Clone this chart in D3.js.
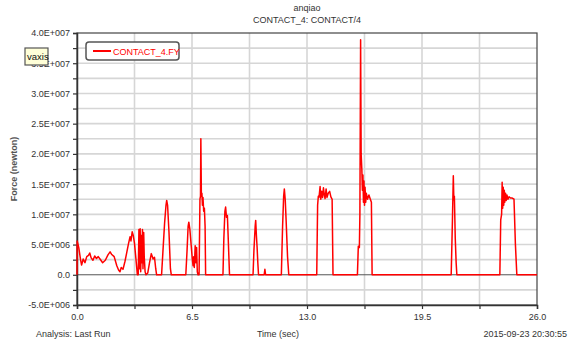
<!DOCTYPE html>
<html>
<head>
<meta charset="utf-8">
<script src="https://cdn.jsdelivr.net/npm/d3@7"></script>
<style>
  body { margin: 0; background: #fff; }
  svg text { font-family: "Liberation Sans", Arial, sans-serif; }
</style>
</head>
<body>
<div id="chart"></div>
<script>
// trace of CONTACT_4.FY, time in seconds, force in 1e6 newton
let timeSec = [
  0, 0.01, 0.1, 0.2, 0.26, 0.35, 0.45, 0.55, 0.65, 0.72, 0.8, 0.9, 1.0, 1.1, 1.2, 1.3, 1.45, 1.6, 1.75, 1.87, 1.95, 2.1, 2.25, 2.35, 2.43, 2.5, 2.6, 2.71, 2.8, 2.9, 3.0, 3.05, 3.12, 3.18, 3.25, 3.35, 3.41,
  3.46, 3.5, 3.53, 3.57, 3.6, 3.64, 3.67, 3.7, 3.73, 3.77, 3.8, 3.85, 3.9,
  4.0, 4.1, 4.2, 4.3, 4.38, 4.45, 4.5,
  4.78, 4.85, 4.95, 5.03, 5.07, 5.12, 5.2, 5.28, 5.33,
  6.15, 6.22, 6.28, 6.32, 6.38, 6.45, 6.52, 6.56, 6.6, 6.63, 6.68, 6.72, 6.76, 6.8, 6.84,
  6.9, 6.95, 6.98, 7.0, 7.03, 7.06, 7.09, 7.12, 7.16, 7.2, 7.24, 7.27,
  8.25, 8.3, 8.36, 8.4, 8.45, 8.5, 8.56, 8.62,
  9.95, 10.0, 10.07, 10.1, 10.14, 10.18, 10.22, 10.26, 10.58, 10.62, 10.66,
  11.55, 11.62, 11.68, 11.72, 11.77, 11.82, 11.9, 11.97,
  13.55, 13.6, 13.64, 13.68, 13.74, 13.78, 13.83, 13.88, 13.93, 13.98, 14.02, 14.08, 14.13, 14.2, 14.28, 14.35, 14.42, 14.47,
  15.85, 15.9, 15.96, 15.99, 16.03, 16.06, 16.1, 16.13, 16.16, 16.19, 16.22, 16.25, 16.28, 16.32, 16.35, 16.42, 16.5, 16.58, 16.64, 16.68,
  21.15, 21.22, 21.27, 21.3, 21.33, 21.38, 21.43, 21.47,
  23.9, 23.95, 24.0, 24.03, 24.06, 24.09, 24.12, 24.15, 24.18, 24.22, 24.26, 24.3, 24.36, 24.42, 24.5, 24.6, 24.7, 24.78, 24.86,
  26.0
];
let forceE6 = [
  0, 5.6, 4.5, 2.5, 1.6, 2.6, 2.0, 3.0, 3.2, 3.6, 2.8, 2.4, 3.1, 2.7, 3.0, 2.6, 2.0, 2.4, 3.3, 3.8, 3.4, 3.0, 1.5, 0.8, 0.5, 1.2, 0.9, 2.2, 3.5, 5.0, 6.3, 5.6, 7.1, 6.5, 5.2, 2.0, 0,
  0, 7.5, 1.0, 7.6, 0.5, 6.5, 2.0, 7.5, 1.0, 7.0, 3.0, 0.5, 0,
  0.3, 2.0, 3.5, 2.6, 2.9, 1.0, 0,
  0, 3.5, 8.5, 11.5, 12.3, 11.5, 7.0, 1.0, 0,
  0, 4.0, 8.0, 8.7, 7.5, 5.0, 2.5, 1.5, 3.0, 1.2, 4.8, 2.0, 4.5, 0.5, 0,
  0, 12.5, 13.0, 22.5, 13.0, 13.5, 11.5, 12.8, 10.5, 11.0, 8.0, 0,
  0, 6.0, 10.5, 11.2, 9.5, 9.8, 5.0, 0,
  0, 4.0, 8.0, 9.0, 6.5, 4.5, 2.0, 0, 0, 0.9, 0,
  0, 8.0, 13.0, 14.2, 12.4, 9.0, 3.0, 0,
  0, 11.5, 13.0, 12.8, 14.6, 12.5, 13.8, 12.8, 14.4, 13.2, 12.6, 14.2, 12.8, 13.5, 13.8, 12.9, 12.5, 0,
  0, 4.7, 4.5, 10.0, 38.9, 20.0, 17.4, 14.0, 16.5, 12.0, 15.5, 11.5, 14.5, 12.0, 13.5, 12.5, 13.2, 12.5, 12.0, 0,
  0, 9.0, 16.4, 12.4, 13.0, 6.0, 2.0, 0,
  0, 9.1, 10.0, 15.3, 11.0, 14.5, 11.5, 14.0, 12.0, 13.5, 12.3, 13.2, 12.5, 12.9, 12.7, 12.7, 12.5, 5.0, 0,
  0
];
let xTickValues = [0, 6.5, 13, 19.5, 26];
let yTickValues = [-5e6, 0, 5e6, 1e7, 1.5e7, 2e7, 2.5e7, 3e7, 3.5e7, 4e7];
let yTickLabels = ['-5.0E+006', '0.0', '5.0E+006', '1.0E+007', '1.5E+007', '2.0E+007', '2.5E+007', '3.0E+007', '3.5E+007', '4.0E+007'];
let seriesName = 'CONTACT_4.FY';

let width = 577;
let height = 341;

let svg = d3.select('#chart')
    .append('svg')
    .attr('width', width)
    .attr('height', height);

let plotMargins = { top: 33, bottom: 36, left: 77, right: 40 };
let plotWidth = width - plotMargins.left - plotMargins.right;
let plotHeight = height - plotMargins.top - plotMargins.bottom;

let plotGroup = svg.append('g')
    .attr('transform', `translate(${plotMargins.left},${plotMargins.top})`);

let xScale = d3.scaleLinear().domain([0, 26]).range([0, plotWidth]);
let yScale = d3.scaleLinear().domain([-5e6, 4e7]).range([plotHeight, 0]);

// grid
let xGridValues = d3.range(0, 26.01, 3.25);
let yGridValues = d3.range(-5e6, 4e7 + 1, 2.5e6);
plotGroup.append('g').selectAll('line')
    .data(yGridValues.filter(v => v > -5e6 && v < 4e7 && v !== 0))
    .enter().append('line')
    .attr('x1', 0).attr('x2', plotWidth)
    .attr('y1', d => yScale(d)).attr('y2', d => yScale(d))
    .attr('stroke', '#d6d6d6').attr('stroke-width', 1.6);
plotGroup.append('g').selectAll('line')
    .data(xGridValues.filter(v => v > 0 && v < 26))
    .enter().append('line')
    .attr('y1', 0).attr('y2', plotHeight)
    .attr('x1', d => xScale(d)).attr('x2', d => xScale(d))
    .attr('stroke', '#d6d6d6').attr('stroke-width', 1.6);

// zero line
plotGroup.append('line')
    .attr('x1', 0).attr('x2', plotWidth)
    .attr('y1', yScale(0)).attr('y2', yScale(0))
    .attr('stroke', '#555').attr('stroke-width', 1);

// frame
plotGroup.append('rect')
    .attr('width', plotWidth).attr('height', plotHeight)
    .attr('fill', 'none').attr('stroke', '#444').attr('stroke-width', 1.2);

// axes
let yAxis = d3.axisLeft(yScale)
    .tickValues(yGridValues)
    .tickSize(4)
    .tickFormat(d => {
        let i = yTickValues.indexOf(d);
        return i >= 0 ? yTickLabels[i] : '';
    });
let yAxisGroup = plotGroup.append('g').call(yAxis);

let xAxis = d3.axisBottom(xScale)
    .tickValues(xGridValues)
    .tickSize(4)
    .tickFormat(d => xTickValues.indexOf(d) >= 0 ? d3.format('.1f')(d) : '');
let xAxisGroup = plotGroup.append('g')
    .attr('transform', `translate(0,${plotHeight})`)
    .call(xAxis);

[yAxisGroup, xAxisGroup].forEach(g => {
    g.select('.domain').attr('stroke', '#333').attr('stroke-width', 1.5);
    g.selectAll('.tick line').attr('stroke', '#333').attr('stroke-width', 1.2);
    g.selectAll('.tick text')
        .attr('fill', '#333')
        .style('font-family', '"Liberation Sans", Arial, sans-serif')
        .style('font-size', '9px');
});
xAxisGroup.selectAll('.tick text').attr('dy', '0.9em');

// trace
let lineGenerator = d3.line()
    .x((d, i) => xScale(timeSec[i]))
    .y(d => yScale(d * 1e6));
plotGroup.append('path')
    .attr('d', lineGenerator(forceE6))
    .attr('fill', 'none')
    .attr('stroke', '#ff0000')
    .attr('stroke-width', 1.5)
    .attr('stroke-linejoin', 'round');

// titles
svg.append('text')
    .attr('x', plotMargins.left + plotWidth / 2).attr('y', 11)
    .attr('text-anchor', 'middle').attr('font-size', 9).attr('fill', '#333')
    .text('anqiao');
svg.append('text')
    .attr('x', plotMargins.left + plotWidth / 2).attr('y', 23)
    .attr('text-anchor', 'middle').attr('font-size', 9).attr('fill', '#333')
    .text('CONTACT_4: CONTACT/4');
svg.append('text')
    .attr('transform', `translate(17,${plotMargins.top + 136}) rotate(-90)`)
    .attr('text-anchor', 'middle').attr('font-size', 9).attr('font-weight', 'bold')
    .attr('fill', '#555')
    .text('Force (newton)');
svg.append('text')
    .attr('x', 36).attr('y', 337)
    .attr('font-size', 9).attr('fill', '#333')
    .text('Analysis:  Last Run');
svg.append('text')
    .attr('x', 278).attr('y', 337)
    .attr('text-anchor', 'middle').attr('font-size', 9).attr('fill', '#333')
    .text('Time (sec)');
svg.append('text')
    .attr('x', 567).attr('y', 337)
    .attr('text-anchor', 'end').attr('font-size', 9).attr('fill', '#333')
    .text('2015-09-23 20:30:55');

// legend
let legend = svg.append('g').attr('transform', 'translate(86,42)');
legend.append('rect')
    .attr('width', 93).attr('height', 18).attr('rx', 3)
    .attr('fill', '#fff').attr('stroke', '#555').attr('stroke-width', 1.5);
legend.append('line')
    .attr('x1', 7).attr('x2', 25).attr('y1', 9).attr('y2', 9)
    .attr('stroke', '#ff0000').attr('stroke-width', 2);
legend.append('text')
    .attr('x', 27).attr('y', 12.5)
    .attr('font-size', 9).attr('fill', '#ff0000')
    .text(seriesName);

// tooltip
let tip = svg.append('g').attr('transform', 'translate(25,48)');
tip.append('rect')
    .attr('width', 23).attr('height', 17)
    .attr('fill', '#ffffd8').attr('stroke', '#555').attr('stroke-width', 1.2);
tip.append('text')
    .attr('x', 2).attr('y', 12)
    .attr('font-size', 9.5).attr('fill', '#111')
    .text('vaxis');
</script>
</body>
</html>
